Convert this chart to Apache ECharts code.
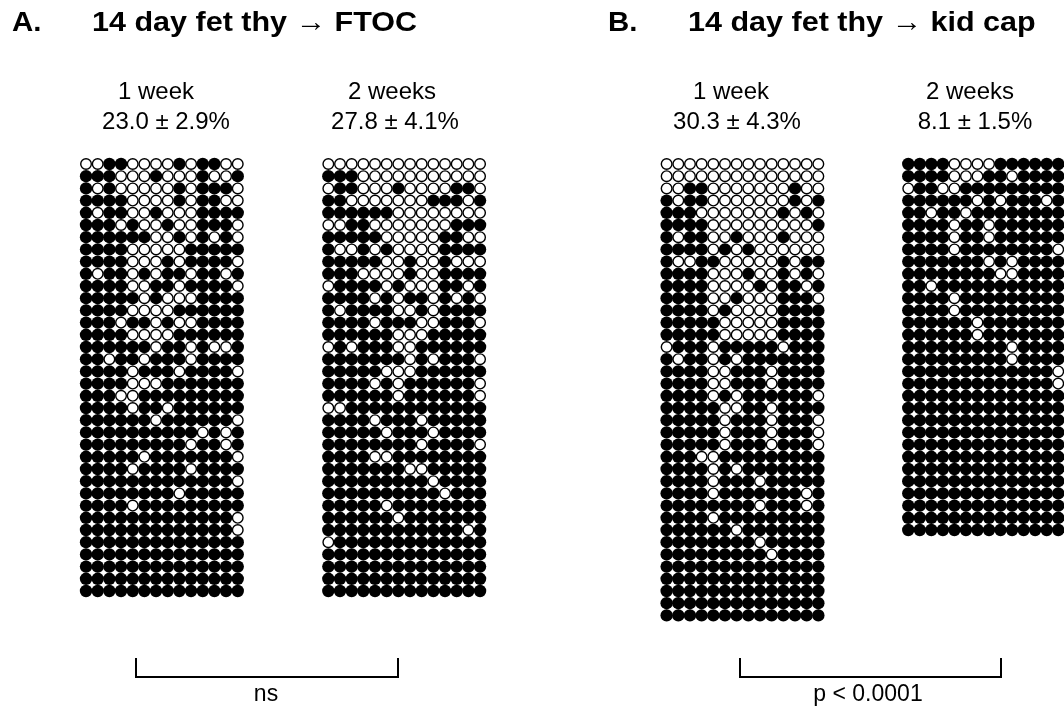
<!DOCTYPE html>
<html>
<head>
<meta charset="utf-8">
<script src="https://cdn.jsdelivr.net/npm/echarts@6/dist/echarts.min.js"></script>
<style>
  html, body { margin: 0; padding: 0; background: #fff; }
  #chart { width: 1064px; height: 708px; }
</style>
</head>
<body>
<div id="chart"></div>
<script>
// one string per row of thymus cells, 'o' = open (white) circle, 'x' = filled
const ftocWeek1 = [
  "ooxxooooxoxxoo", "xxxoooxoooxoox", "xoxoooooxoxxxo", "xxxxooooxoxxoo",
  "xoxxooxoooxxxx", "xxxoxooxooxxxo", "xxxxxxooxoxoxo", "xxxxoooooxxxxx",
  "xxxxoooxoxxxxo", "xoxxoxoxxoxxox", "xxxxooxxoxxxxo", "xxxxxoxoooxxxx",
  "xxxxooooxxxxxx", "xxxoxxoxooxxxx", "xxxxooooxxxxxx", "xxxxxxoxxoxoox",
  "xxoxxoxxxoxxxx", "xxxxoxxxoxxxxo", "xxxxoooxxxxxxx", "xxxooxxxxxxxxx",
  "xxxxoxxoxxxxxx", "xxxxxxoxxxxxxo", "xxxxxxxxxxoxox", "xxxxxxxxxoxxox",
  "xxxxxoxxxxxxxo", "xxxxoxxxxoxxxx", "xxxxxxxxxxxxxo", "xxxxxxxxoxxxxx",
  "xxxxoxxxxxxxxx", "xxxxxxxxxxxxxo", "xxxxxxxxxxxxxo", "xxxxxxxxxxxxxx",
  "xxxxxxxxxxxxxx", "xxxxxxxxxxxxxx", "xxxxxxxxxxxxxx", "xxxxxxxxxxxxxx"
];
const ftocWeek2 = [
  "oooooooooooooo", "xxxooooooooooo", "oxxoooxooooxxo", "xxoooooooxxxox",
  "xxxxxxoooooooo", "ooxxoooooooxxx", "xxxxxoooooxxoo", "xooxoxooooxxxx",
  "xxxxxooxooxooo", "xxxooooxooxxxx", "oxxxxoxoooxxox", "xxxxoxoxxoxoxo",
  "xoxxxxooxoxxxx", "xxxxoxxxooxxxo", "xxxxxxoooxxxxx", "oxoxxxooxxxxxx",
  "xxxxxxxoxoxxxo", "xxxxxoooxxxxxx", "xxxxoxoxxxxxxo", "xxxxxxoxxxxxxo",
  "ooxxxxxxxxxxxx", "xxxxoxxxoxxxxx", "xxxxxoxxxoxxxx", "xxxxxxxxoxxxxo",
  "xxxxooxxxxxxxx", "xxxxxxxooxxxxx", "xxxxxxxxxoxxxx", "xxxxxxxxxxoxxx",
  "xxxxxoxxxxxxxx", "xxxxxxoxxxxxxx", "xxxxxxxxxxxxox", "oxxxxxxxxxxxxx",
  "xxxxxxxxxxxxxx", "xxxxxxxxxxxxxx", "xxxxxxxxxxxxxx", "xxxxxxxxxxxxxx"
];
const kidWeek1 = [
  "oooooooooooooo", "oooooooooooooo", "ooxxoooooooxoo", "xoxxoooooooxox",
  "xxxoooooooxoxo", "xxxxooooooooox", "xoxxooxoooxooo", "xxxxoxoxoooooo",
  "xooxxoooooxoxx", "xxxxoooxooxoxo", "xxxxooooxoxxox", "xxxxooxoooxxxo",
  "xxxxoxooooxxxx", "xxxxxoooooxxxx", "xxxxxoooooxxxx", "oxxxoxxxxxoxxx",
  "xoxxoxoxxxxxxx", "xxxxooxxxoxxxx", "xxxxooxxxoxxxx", "xxxxoxoxxxxxxo",
  "xxxxxooxxoxxxx", "xxxxxoxxxoxxxo", "xxxxxoxxxoxxxo", "xxxxxoxxxoxxxo",
  "xxxooxxxxxxxxx", "xxxxoxoxxxxxxx", "xxxxoxxxoxxxxx", "xxxxoxxxxxxxox",
  "xxxxxxxxoxxxox", "xxxxoxxxxxxxxx", "xxxxxxoxxxxxxx", "xxxxxxxxoxxxxx",
  "xxxxxxxxxoxxxx", "xxxxxxxxxxxxxx", "xxxxxxxxxxxxxx", "xxxxxxxxxxxxxx",
  "xxxxxxxxxxxxxx", "xxxxxxxxxxxxxx"
];
const kidWeek2 = [
  "xxxxooooxxxxxx", "xxxxoooxxoxxxx", "oxxooxxxxxxxxx", "xxxxxxoxoxxxox",
  "xxoxxoxxxxxxxx", "xxxxoxxoxxxxxx", "xxxxoxxoxxxxxx", "xxxxoxxxxxxxxo",
  "xxxxxxxoxoxxxx", "xxxxxxxxooxxxx", "xxoxxxxxxxxxxx", "xxxxoxxxxxxxxx",
  "xxxxoxxxxxxxxx", "xxxxxxoxxxxxxx", "xxxxxxoxxxxxxx", "xxxxxxxxxoxxxx",
  "xxxxxxxxxoxxxx", "xxxxxxxxxxxxxo", "xxxxxxxxxxxxxo", "xxxxxxxxxxxxxx",
  "xxxxxxxxxxxxxx", "xxxxxxxxxxxxxx", "xxxxxxxxxxxxxx", "xxxxxxxxxxxxxx",
  "xxxxxxxxxxxxxx", "xxxxxxxxxxxxxx", "xxxxxxxxxxxxxx", "xxxxxxxxxxxxxx",
  "xxxxxxxxxxxxxx", "xxxxxxxxxxxxxx", "xxxxxxxxxxxxxx"
];

const panelLetters = ["A.", "B."];
const panelTitles = ["14 day fet thy \u2192 FTOC", "14 day fet thy \u2192 kid cap"];
const timeLabels = ["1 week", "2 weeks", "1 week", "2 weeks"];
const percentLabels = ["23.0 \u00b1 2.9%", "27.8 \u00b1 4.1%", "30.3 \u00b1 4.3%", "8.1 \u00b1 1.5%"];
const statLabels = ["ns", "p < 0.0001"];

const grids = [ftocWeek1, ftocWeek2, kidWeek1, kidWeek2];
const gridLeft = [80.2, 322.5, 660.8, 902.5];
const COL_W = 11.67, ROW_H = 12.2, TOP = 157.9;

function cells(rows, mark) {
  const out = [];
  rows.forEach(function (row, r) {
    for (let c = 0; c < row.length; c++) {
      if (row[c] === mark) out.push([c, r]);
    }
  });
  return out;
}

const option = {
  animation: false,
  backgroundColor: '#fff',
  grid: [], xAxis: [], yAxis: [], series: [],
  graphic: []
};

grids.forEach(function (rows, i) {
  option.grid.push({ left: gridLeft[i], top: TOP, width: 14 * COL_W, height: rows.length * ROW_H });
  option.xAxis.push({ gridIndex: i, type: 'value', min: -0.5, max: 13.5, show: false });
  option.yAxis.push({ gridIndex: i, type: 'value', min: -0.5, max: rows.length - 0.5, inverse: true, show: false });
  option.series.push({
    type: 'scatter', xAxisIndex: i, yAxisIndex: i, symbol: 'circle', symbolSize: 12.4,
    itemStyle: { color: '#000', opacity: 1 }, data: cells(rows, 'x'), z: 2
  });
  option.series.push({
    type: 'scatter', xAxisIndex: i, yAxisIndex: i, symbol: 'circle', symbolSize: 10.6,
    itemStyle: { color: '#fff', borderColor: '#000', borderWidth: 1.4, opacity: 1 }, data: cells(rows, 'o'), z: 3
  });
});

const FONT = '"Liberation Sans", Arial, sans-serif';
function txt(x, y, s, size, bold, align, sx) {
  return {
    type: 'text', x: x, y: y, scaleX: sx || 1,
    style: { text: s, fill: '#000', font: (bold ? 'bold ' : '') + size + 'px ' + FONT, textAlign: align || 'center', textVerticalAlign: 'middle' }
  };
}

// headers
option.graphic.push(txt(12, 23, panelLetters[0], 28, true, 'left', 1.05));
option.graphic.push(txt(92, 23, panelTitles[0], 28, true, 'left', 1.09));
option.graphic.push(txt(608, 23, panelLetters[1], 28, true, 'left', 1.05));
option.graphic.push(txt(688, 23, panelTitles[1], 28, true, 'left', 1.09));

const timeX = [156, 392, 731, 970];
const percentX = [166, 395, 737, 975];
timeX.forEach(function (x, i) {
  option.graphic.push(txt(x, 92, timeLabels[i], 24, false));
  option.graphic.push(txt(percentX[i], 122, percentLabels[i], 24, false));
});

// significance brackets
const brackets = [[136, 398], [740, 1001]];
brackets.forEach(function (b, i) {
  option.graphic.push({
    type: 'polyline',
    shape: { points: [[b[0], 658], [b[0], 677], [b[1], 677], [b[1], 658]] },
    style: { stroke: '#000', lineWidth: 2, fill: null }
  });
  option.graphic.push(txt(i === 0 ? 266 : 868, 695, statLabels[i], 23, false));
});

const chart = echarts.init(document.getElementById('chart'));
chart.setOption(option);
</script>
</body>
</html>
